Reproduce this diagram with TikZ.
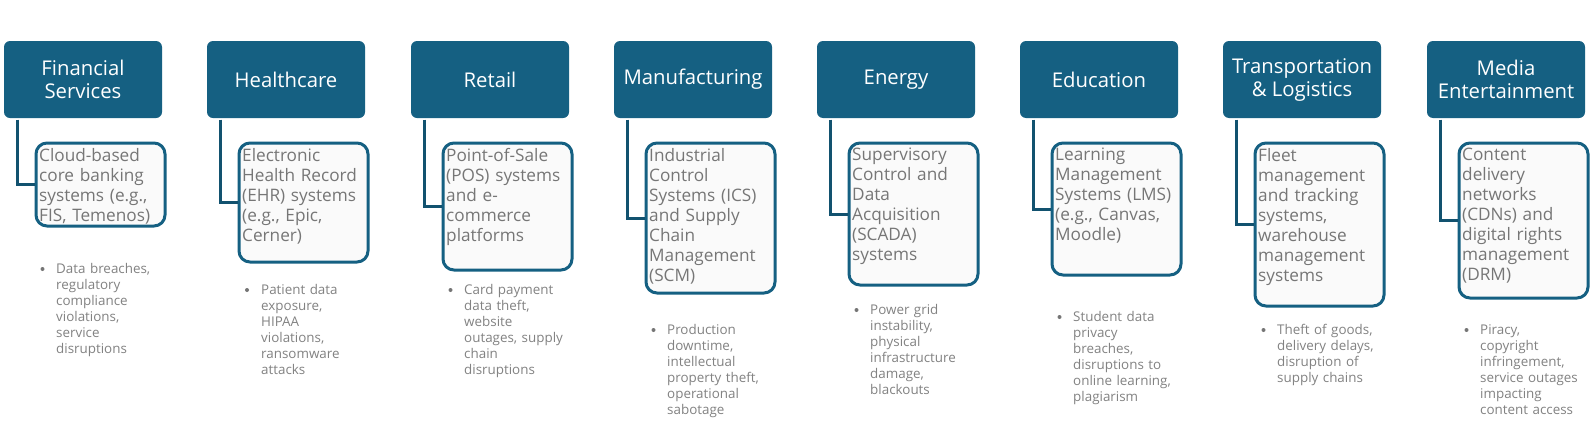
\documentclass[tikz,border=0pt]{standalone}
\usepackage{fontspec}
\setmainfont{Open Sans}
\definecolor{hdrblue}{HTML}{156082}
\definecolor{linkblue}{HTML}{12526F}
\definecolor{subfill}{HTML}{FAFAFA}
\definecolor{subtext}{HTML}{767676}
\definecolor{bultext}{HTML}{828282}
\begin{document}
\begin{tikzpicture}[x=1pt,y=-1pt,
  hdr/.style={fill=hdrblue, rounded corners=6pt, minimum width=158pt, minimum height=77pt,
    inner sep=0pt, text=white, align=center, font=\fontsize{20.3}{23}\selectfont},
  subbox/.style={draw=hdrblue, line width=3pt, fill=subfill, rounded corners=11pt,
    minimum width=129pt, inner sep=0pt, anchor=north west},
  subtxt/.style={anchor=north west, inner sep=0pt, text width=126pt, align=left,
    text=subtext, font=\fontsize{17.2}{20}\selectfont},
  bul/.style={circle, fill=bultext!90!black, inner sep=0pt, minimum size=4pt},
  bultxt/.style={anchor=north west, inner sep=0pt, text width=120pt, align=left,
    text=bultext, font=\fontsize{13.4}{16}\selectfont},
  link/.style={draw=linkblue, line width=3pt}
]
\useasboundingbox (0,0) rectangle (1592,429);
\fill[white] (0,0) rectangle (1592,429);

% headers
\node[hdr] (h1) at (83,79.5) {Financial\\Services};
\node[hdr] (h2) at (286,79.5) {Healthcare};
\node[hdr] (h3) at (490,79.5) {Retail};
\node[hdr] (h4) at (693,79.5) {Manufacturing};
\node[hdr] (h5) at (896,79.5) {Energy};
\node[hdr] (h6) at (1099,79.5) {Education};
\node[hdr] (h7) at (1302,79.5) {Transportation\\\&~Logistics};
\node[hdr] (h8) at (1506,79.5) {Media\\Entertainment};

% sub boxes
\node[subbox, minimum height=83pt]  (s1) at (34.5,141.5) {};
\node[subbox, minimum height=119pt] (s2) at (237.5,141.5) {};
\node[subbox, minimum height=127pt] (s3) at (441.5,141.5) {};
\node[subbox, minimum height=150pt] (s4) at (644.5,141.5) {};
\node[subbox, minimum height=142pt] (s5) at (847.5,141.5) {};
\node[subbox, minimum height=132pt] (s6) at (1050.5,141.5) {};
\node[subbox, minimum height=163pt] (s7) at (1253.5,141.5) {};
\node[subbox, minimum height=155pt] (s8) at (1457.5,141.5) {};

% connectors
\foreach \i in {1,...,8} {
  \draw[link] ([xshift=14pt,yshift=-1.5pt]h\i.south west) |- (s\i.west);
}

% sub box texts
\node[subtxt] (t1) at (39,147.8) {Cloud-based\\core banking\\systems (e.g.,\\FIS, Temenos)};
\node[subtxt] (t2) at (242,147.8) {Electronic\\Health Record\\(EHR) systems\\(e.g., Epic,\\Cerner)};
\node[subtxt] (t3) at (446,147.8) {Point-of-Sale\\(POS) systems\\and e-\\commerce\\platforms};
\node[subtxt] (t4) at (649,147.8) {Industrial\\Control\\Systems (ICS)\\and Supply\\Chain\\Management\\(SCM)};
\node[subtxt] (t5) at (852,147.8) {Supervisory\\Control and\\Data\\Acquisition\\(SCADA)\\systems};
\node[subtxt] (t6) at (1055,147.8) {Learning\\Management\\Systems (LMS)\\(e.g., Canvas,\\Moodle)};
\node[subtxt] (t7) at (1258,147.8) {Fleet\\management\\and tracking\\systems,\\warehouse\\management\\systems};
\node[subtxt] (t8) at (1462,147.8) {Content\\delivery\\networks\\(CDNs) and\\digital rights\\management\\(DRM)};

% bullets
\node[bul] (b1) at (42.5,269) {};
\node[bultxt] (u1) at (56,263) {Data breaches,\\regulatory\\compliance\\violations,\\service\\disruptions};
\node[bul] (b2) at (247,290) {};
\node[bultxt] (u2) at (261,284) {Patient data\\exposure,\\HIPAA\\violations,\\ransomware\\attacks};
\node[bul] (b3) at (450.5,290) {};
\node[bultxt] (u3) at (464,284) {Card payment\\data theft,\\website\\outages, supply\\chain\\disruptions};
\node[bul] (b4) at (653.5,330) {};
\node[bultxt] (u4) at (667,324) {Production\\downtime,\\intellectual\\property theft,\\operational\\sabotage};
\node[bul] (b5) at (856.5,310) {};
\node[bultxt] (u5) at (870,304) {Power grid\\instability,\\physical\\infrastructure\\damage,\\blackouts};
\node[bul] (b6) at (1059.5,317) {};
\node[bultxt] (u6) at (1073,311) {Student data\\privacy\\breaches,\\disruptions to\\online learning,\\plagiarism};
\node[bul] (b7) at (1263.5,330) {};
\node[bultxt] (u7) at (1277,324) {Theft of goods,\\delivery delays,\\disruption of\\supply chains};
\node[bul] (b8) at (1466.5,330) {};
\node[bultxt] (u8) at (1480,324) {Piracy,\\copyright\\infringement,\\service outages\\impacting\\content access};
\end{tikzpicture}
\end{document}
